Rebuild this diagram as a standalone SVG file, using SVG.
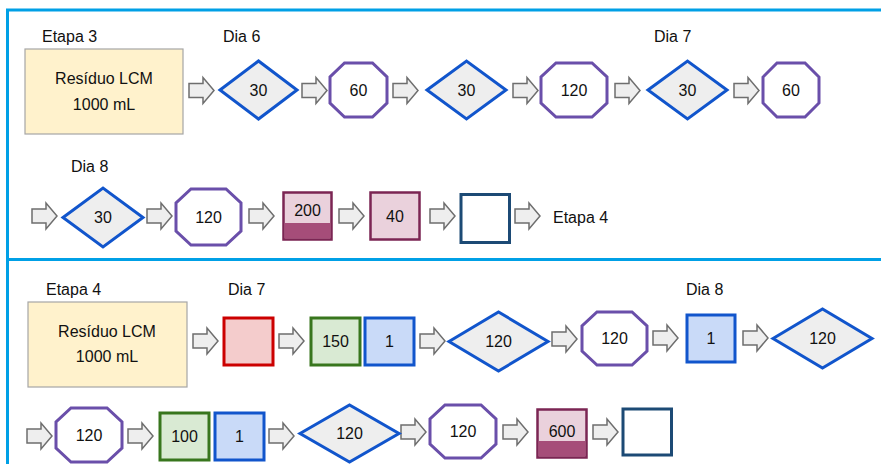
<svg xmlns="http://www.w3.org/2000/svg" xmlns:xlink="http://www.w3.org/1999/xlink" width="881" height="464" viewBox="0 0 881 464">
<defs>
<style>
text{font-family:"Liberation Sans",Arial,sans-serif;font-size:16px;fill:#111;}
.c{text-anchor:middle;}
.frame{stroke:#00A0E6;stroke-width:3;fill:none;}
.beige{fill:#FFF2CC;stroke:#A6A6A6;stroke-width:1.2;}
.dia{fill:#EEEEEE;stroke:#1155CC;stroke-width:3;stroke-linejoin:miter;}
.oct{fill:#FFFFFF;stroke:#6A4FAA;stroke-width:3;}
.pink{fill:#EAD1DC;stroke:#7B2553;stroke-width:2.5;}
.band{fill:#A64D79;}
.empty{fill:#FFFFFF;stroke:#1C4A75;stroke-width:3;}
.red{fill:#F4CCCC;stroke:#CC0000;stroke-width:3;}
.green{fill:#D9EAD3;stroke:#38761D;stroke-width:3;}
.blue{fill:#C9DAF8;stroke:#1155CC;stroke-width:3;}
.arr{fill:#EEEEEE;stroke:#6E6E6E;stroke-width:1.5;stroke-linejoin:miter;}
</style>
<path id="ar" class="arr" d="M0,-7 H14 V-13 L25,0 L14,13 V7 H0 Z"/>
</defs>

<g id="frame">
<path class="frame" d="M7.5,464 V10 H881"/>
<path class="frame" d="M7.5,259.5 H881"/>
</g>

<g id="connectors">
<use xlink:href="#ar" x="189" y="90.5"/>
<use xlink:href="#ar" x="302" y="90.5"/>
<use xlink:href="#ar" x="393" y="90.5"/>
<use xlink:href="#ar" x="513" y="90.5"/>
<use xlink:href="#ar" x="615" y="90.5"/>
<use xlink:href="#ar" x="734" y="90.5"/>
<use xlink:href="#ar" x="32" y="216"/>
<use xlink:href="#ar" x="147" y="216"/>
<use xlink:href="#ar" x="249" y="216"/>
<use xlink:href="#ar" x="339" y="216"/>
<use xlink:href="#ar" x="430" y="216"/>
<use xlink:href="#ar" x="515" y="216"/>
<use xlink:href="#ar" x="193" y="341"/>
<use xlink:href="#ar" x="279" y="341"/>
<use xlink:href="#ar" x="420" y="341"/>
<use xlink:href="#ar" x="552" y="339"/>
<use xlink:href="#ar" x="653" y="338"/>
<use xlink:href="#ar" x="743" y="338"/>
<use xlink:href="#ar" x="27" y="436"/>
<use xlink:href="#ar" x="128" y="436"/>
<use xlink:href="#ar" x="269" y="436"/>
<use xlink:href="#ar" x="401" y="432"/>
<use xlink:href="#ar" x="503" y="432"/>
<use xlink:href="#ar" x="593" y="432"/>
</g>

<g id="labels">
<text x="42" y="42">Etapa 3</text>
<text x="223" y="42">Dia 6</text>
<text x="654" y="42">Dia 7</text>
<text x="71" y="172">Dia 8</text>
<text x="553" y="223">Etapa 4</text>
<text x="46" y="295">Etapa 4</text>
<text x="228" y="295">Dia 7</text>
<text x="686" y="295">Dia 8</text>
</g>

<!-- Etapa 3 -->
<g id="n_residuo3">
<rect class="beige" x="25" y="49" width="158" height="85"/>
<text class="c" x="104" y="84">Resíduo LCM</text>
<text class="c" x="104" y="110">1000 mL</text>
</g>
<g id="n1"><polygon class="dia" points="220,90 258.5,61 297,90 258.5,119"/><text class="c" x="258.5" y="96">30</text></g>
<g id="n2"><polygon class="oct" points="344.5,63 372.5,63 387,77 387,103 372.5,117 344.5,117 330,103 330,77"/><text class="c" x="358.5" y="96">60</text></g>
<g id="n3"><polygon class="dia" points="427,90 466.5,61 506,90 466.5,119"/><text class="c" x="466.5" y="96">30</text></g>
<g id="n4"><polygon class="oct" points="556,63 592,63 607,77 607,103 592,117 556,117 541,103 541,77"/><text class="c" x="574" y="96">120</text></g>
<g id="n5"><polygon class="dia" points="648,90 687.5,61 727,90 687.5,119"/><text class="c" x="687.5" y="96">30</text></g>
<g id="n6"><polygon class="oct" points="777,63 805,63 819,77 819,103 805,117 777,117 763,103 763,77"/><text class="c" x="791" y="96">60</text></g>

<g id="n7"><polygon class="dia" points="63,217.5 103,188 143,217.5 103,247"/><text class="c" x="103" y="223">30</text></g>
<g id="n8"><polygon class="oct" points="191,189 226,189 241,203 241,231 226,245 191,245 176,231 176,203"/><text class="c" x="208.5" y="223">120</text></g>
<g id="n9"><rect class="pink" x="283.5" y="192.5" width="48" height="47"/><rect class="band" x="284.5" y="223" width="46" height="15.5"/><text class="c" x="307.5" y="216">200</text></g>
<g id="n10"><rect class="pink" x="370.5" y="192.5" width="49" height="47"/><text class="c" x="395" y="222">40</text></g>
<g id="n11"><rect class="empty" x="461" y="194.5" width="48.5" height="48"/></g>

<!-- Etapa 4 -->
<g id="n_residuo4">
<rect class="beige" x="28" y="302" width="159" height="85"/>
<text class="c" x="107" y="337">Resíduo LCM</text>
<text class="c" x="107" y="362">1000 mL</text>
</g>
<g id="n12"><rect class="red" x="224" y="318" width="49" height="47"/></g>
<g id="n13"><rect class="green" x="311" y="318" width="49" height="47"/><text class="c" x="335.5" y="347">150</text></g>
<g id="n14"><rect class="blue" x="365" y="318" width="49" height="47"/><text class="c" x="389.5" y="347">1</text></g>
<g id="n15"><polygon class="dia" points="449,341.5 498.5,312 548,341.5 498.5,371"/><text class="c" x="498.5" y="347">120</text></g>
<g id="n16"><polygon class="oct" points="597,312 632,312 647,326 647,351 632,365 597,365 582,351 582,326"/><text class="c" x="614.5" y="344">120</text></g>
<g id="n17"><rect class="blue" x="687" y="315" width="48" height="47"/><text class="c" x="711" y="344">1</text></g>
<g id="n18"><polygon class="dia" points="773,338.5 822.5,309 872,338.5 822.5,368"/><text class="c" x="822.5" y="344">120</text></g>

<g id="n19"><polygon class="oct" points="71,408 107,408 122,422 122,448 107,462 71,462 56,448 56,422"/><text class="c" x="89" y="441">120</text></g>
<g id="n20"><rect class="green" x="160" y="413" width="49" height="47"/><text class="c" x="184.5" y="442">100</text></g>
<g id="n21"><rect class="blue" x="215" y="413" width="49" height="47"/><text class="c" x="239.5" y="442">1</text></g>
<g id="n22"><polygon class="dia" points="300,433.5 349.5,405 399,433.5 349.5,462"/><text class="c" x="349.5" y="439">120</text></g>
<g id="n23"><polygon class="oct" points="445,405 481,405 496,419 496,444 481,458 445,458 430,444 430,419"/><text class="c" x="463" y="437">120</text></g>
<g id="n24"><rect class="pink" x="537.5" y="409.5" width="49" height="48"/><rect class="band" x="538.5" y="441" width="47" height="15.5"/><text class="c" x="562" y="437">600</text></g>
<g id="n25"><rect class="empty" x="623" y="409" width="48.5" height="46"/></g>
</svg>
